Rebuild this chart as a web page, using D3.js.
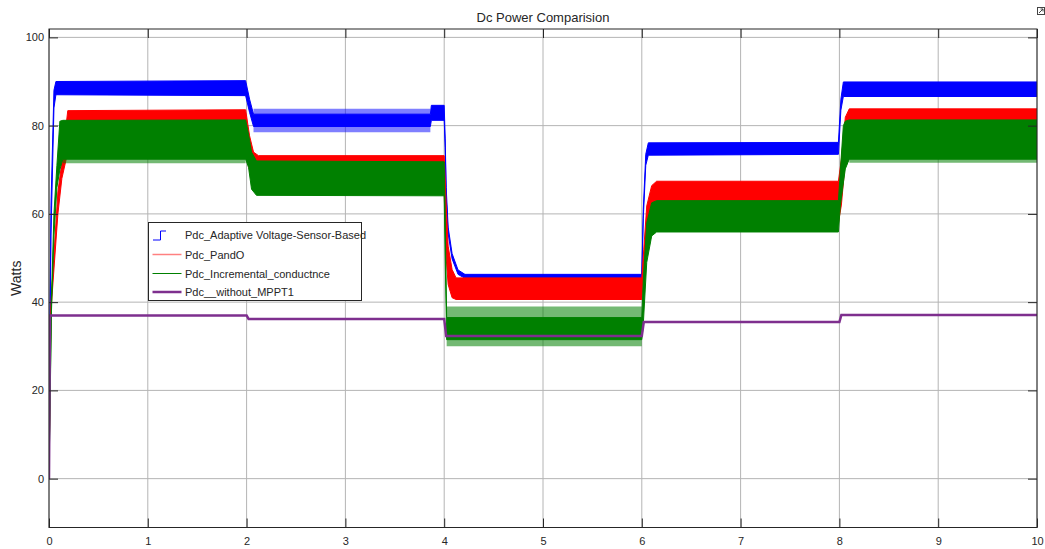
<!DOCTYPE html>
<html>
<head>
<meta charset="UTF-8">
<script src="https://d3js.org/d3.v7.min.js"></script>
<style>
  body { margin: 0; background: #fff; font-family: "Liberation Sans", Arial, sans-serif; }
  .tick text { font-size: 11px; fill: #262626; }
</style>
</head>
<body>
<div id="chart"></div>
<script>
// envelope of each trace: [time, lower, upper]
const adaptiveEnv = [
  [0, 0, 0], [0.005, 20, 24], [0.02, 55, 62], [0.05, 84, 88], [0.07, 87, 90],
  [1.99, 86.8, 90.2], [2.03, 83, 86], [2.07, 79.8, 82.6], [3.86, 79.8, 82.6],
  [3.87, 81.2, 84.6], [4.0, 81.2, 84.6], [4.01, 75, 77], [4.02, 64, 66],
  [4.04, 55.5, 57], [4.08, 49.8, 51], [4.14, 46.3, 47.3], [4.21, 45.4, 46.3],
  [6.0, 45.4, 46.3], [6.015, 59, 61], [6.04, 71, 73.5], [6.066, 73.3, 76.1],
  [7.99, 73.5, 76.2], [8.015, 83.5, 86], [8.04, 86.6, 89.9], [10, 86.6, 89.9]
];
// noisy outer spread of the adaptive trace between 2 s and 4 s
const adaptiveSpread = [[2.07, 78.5, 83.8], [3.86, 78.5, 83.8]];
const pandoEnv = [
  [0, 0, 0], [0.02, 38, 40], [0.09, 60, 65], [0.13, 68, 71.7], [0.19, 74, 83.4],
  [1.99, 74, 83.6], [2.03, 70, 77.7], [2.07, 66, 74], [2.12, 64.5, 73.2],
  [4.0, 64.5, 73.2], [4.02, 50, 62], [4.04, 44, 52.7], [4.08, 41, 47.4],
  [4.12, 40.6, 45.5], [6.0, 40.6, 45.5], [6.02, 46, 52], [6.05, 52, 61.8],
  [6.1, 57, 66.4], [6.15, 58, 67.4], [7.99, 58, 67.4], [8.02, 62, 72.4],
  [8.06, 72, 81.9], [8.1, 74, 83.8], [10, 74, 83.8]
];
const incEnv = [
  [0, 0, 0], [0.025, 38, 41], [0.05, 55, 60], [0.08, 66, 71], [0.11, 70, 81],
  [0.14, 72.4, 81.2], [1.99, 72.4, 81.3], [2.02, 70.5, 78], [2.05, 65.6, 74],
  [2.1, 64.2, 72], [4.0, 64.1, 71.8], [4.01, 50, 60], [4.025, 31.5, 36.5],
  [6.0, 31.5, 36.5], [6.015, 35, 45], [6.05, 49, 58], [6.1, 55, 62.5],
  [6.15, 55.9, 63], [7.99, 55.9, 63], [8.01, 62, 70], [8.04, 67, 80],
  [8.06, 70.2, 81], [8.1, 72.4, 81.3], [10, 72.4, 81.3]
];
// spiky fringes of the incremental-conductance trace
const incSpread = [
  [[0.14, 71.5, 72.6], [1.99, 71.5, 72.6]],
  [[4.025, 30, 39], [6.0, 30, 39]],
  [[8.1, 71.6, 72.6], [10, 71.6, 72.6]]
];
// without MPPT: [time, value]
const noMpptLine = [
  [0, 0], [0.01, 37], [2.0, 37], [2.02, 36.2], [4.0, 36.2], [4.02, 32.3],
  [6.0, 32.3], [6.02, 35.5], [8.0, 35.5], [8.02, 37.1], [10, 37.1]
];

const xTicks = [0, 1, 2, 3, 4, 5, 6, 7, 8, 9, 10];
const yTicks = [0, 20, 40, 60, 80, 100];
const names = ["Pdc_Adaptive Voltage-Sensor-Based", "Pdc_PandO", "Pdc_Incremental_conductnce", "Pdc__without_MPPT1"];

const W = 1045, H = 549;
const m = { left: 49, top: 29, right: 8, bottom: 21.5 };
const iw = W - m.left - m.right, ih = H - m.top - m.bottom;

const svg = d3.select("#chart").append("svg")
  .attr("width", W).attr("height", H);

const g = svg.append("g").attr("transform", `translate(${m.left},${m.top})`);

const x = d3.scaleLinear().domain([0, 10]).range([0, iw]);
const y = d3.scaleLinear().domain([-11.07, 101.9]).range([ih, 0]);

// grid
g.append("g").selectAll("line").data(xTicks).enter().append("line")
  .attr("x1", d => x(d)).attr("x2", d => x(d)).attr("y1", 0).attr("y2", ih)
  .attr("stroke", "#b4b4b4").attr("stroke-width", 1);
g.append("g").selectAll("line").data(yTicks).enter().append("line")
  .attr("y1", d => y(d)).attr("y2", d => y(d)).attr("x1", 0).attr("x2", iw)
  .attr("stroke", "#b4b4b4").attr("stroke-width", 1);

svg.append("clipPath").attr("id", "clip")
  .append("rect").attr("width", iw).attr("height", ih);
const plot = g.append("g").attr("clip-path", "url(#clip)");

const area = d3.area().x(d => x(d[0])).y0(d => y(d[1])).y1(d => y(d[2]));

plot.append("path").datum(adaptiveSpread).attr("d", area)
  .attr("fill", "#0000ff").attr("fill-opacity", 0.5);
plot.append("path").datum(adaptiveEnv).attr("d", area)
  .attr("fill", "#0000ff").attr("stroke", "#0000ff").attr("stroke-width", 1);
plot.append("path").datum(pandoEnv).attr("d", area)
  .attr("fill", "#ff0000").attr("stroke", "#ff0000").attr("stroke-width", 1);
plot.selectAll(".incSpread").data(incSpread).enter().append("path")
  .attr("d", area).attr("fill", "#008000").attr("fill-opacity", 0.55);
plot.append("path").datum(incEnv).attr("d", area)
  .attr("fill", "#008000").attr("stroke", "#008000").attr("stroke-width", 1);
plot.append("path").datum(noMpptLine)
  .attr("d", d3.line().x(d => x(d[0])).y(d => y(d[1])))
  .attr("fill", "none").attr("stroke", "#7e2f8e").attr("stroke-width", 2.5);

// axes with inward ticks
g.append("g").attr("transform", `translate(0,${ih})`)
  .call(d3.axisBottom(x).tickValues(xTicks).tickSize(-9).tickPadding(10));
g.append("g")
  .call(d3.axisLeft(y).tickValues(yTicks).tickSize(-9).tickPadding(5));
g.append("g").call(d3.axisTop(x).tickValues(xTicks).tickSize(-9).tickFormat(""));
g.append("g").attr("transform", `translate(${iw},0)`)
  .call(d3.axisRight(y).tickValues(yTicks).tickSize(-9).tickFormat(""));
g.selectAll(".domain").remove();
g.selectAll(".tick line").attr("stroke", "#262626");

g.append("rect").attr("width", iw).attr("height", ih)
  .attr("fill", "none").attr("stroke", "#262626").attr("stroke-width", 1);

// title and label
svg.append("text").attr("x", m.left + iw / 2).attr("y", 22)
  .attr("text-anchor", "middle").style("font-size", "13px").style("fill", "#262626")
  .text("Dc Power Comparision");
svg.append("text").attr("transform", `translate(21,${m.top + ih / 2}) rotate(-90)`)
  .attr("text-anchor", "middle").style("font-size", "14px").style("fill", "#262626")
  .text("Watts");

// little corner icon
svg.append("rect").attr("x", 1037.5).attr("y", 7.5).attr("width", 7).attr("height", 7)
  .attr("fill", "#fff").attr("stroke", "#444");
svg.append("path").attr("d", "M1039,13 L1043,9 M1040.5,9 L1043,9 L1043,11.5")
  .attr("fill", "none").attr("stroke", "#444");

// legend
const lg = svg.append("g").attr("transform", "translate(148.5,222.5)");
lg.append("rect").attr("width", 213).attr("height", 78)
  .attr("fill", "#fff").attr("stroke", "#262626");
const rowY = [12.5, 32, 51, 69.5];
names.forEach((n, i) => {
  lg.append("text").attr("x", 36.5).attr("y", rowY[i] + 4)
    .style("font-size", "11px").style("fill", "#262626").text(n);
});
lg.append("path").attr("d", `M4.5,${rowY[0] + 5} L12,${rowY[0] + 5} L12,${rowY[0] - 4} L17.5,${rowY[0] - 4}`)
  .attr("fill", "none").attr("stroke", "#0000ff").attr("stroke-width", 1);
lg.append("line").attr("x1", 4).attr("x2", 33).attr("y1", rowY[1]).attr("y2", rowY[1])
  .attr("stroke", "#ff8080").attr("stroke-width", 1.5);
lg.append("line").attr("x1", 4).attr("x2", 33).attr("y1", rowY[2]).attr("y2", rowY[2])
  .attr("stroke", "#008000").attr("stroke-width", 1);
lg.append("line").attr("x1", 4).attr("x2", 33).attr("y1", rowY[3]).attr("y2", rowY[3])
  .attr("stroke", "#7e2f8e").attr("stroke-width", 2.5);
</script>
</body>
</html>
